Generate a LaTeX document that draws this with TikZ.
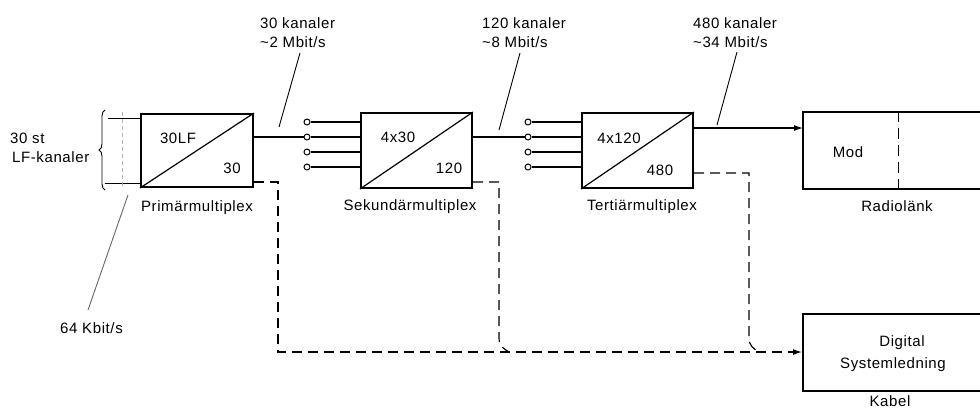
\documentclass[tikz,border=0pt]{standalone}
\usepackage{fontspec}
\setmainfont[LetterSpace=4]{Liberation Sans}
\usetikzlibrary{decorations.pathreplacing,arrows.meta}
\begin{document}
\begin{tikzpicture}[x=1pt,y=-1pt,
  box/.style={draw,line width=2pt,rectangle,inner sep=0pt},
  lbl/.style={font=\fontsize{15}{17}\selectfont,inner sep=0pt},
  ln/.style={line width=1.2pt},
  thinln/.style={line width=0.9pt},
  dsh/.style={line width=1.2pt,dash pattern=on 10pt off 6pt},
  term/.style={circle,draw,line width=1pt,inner sep=0pt,minimum size=6pt,fill=white},
  tip/.style={-{Latex[length=9pt,width=6pt]}}
]
\useasboundingbox (0,0) rectangle (980,408);
\clip (0,0) rectangle (980,408);

% multiplex boxes
\node[box,minimum width=112pt,minimum height=73pt] (p) at (197,150.5) {};
\node[box,minimum width=111pt,minimum height=75pt] (s) at (416.5,150.5) {};
\node[box,minimum width=111pt,minimum height=75pt] (t) at (637.5,150.5) {};
\draw[ln] (p.south west) -- (p.north east);
\draw[ln] (s.south west) -- (s.north east);
\draw[ln] (t.south west) -- (t.north east);

% box texts
\node[lbl] (p1) at (178,138) {30LF};
\node[lbl] (p2) at (232,168) {30};
\node[lbl] (p3) at (197,208) {Primärmultiplex};
\node[lbl] (s1) at (398,137) {4x30};
\node[lbl] (s2) at (449,168) {120};
\node[lbl] (s3) at (410,207) {Sekundärmultiplex};
\node[lbl] (t1) at (619,138) {4x120};
\node[lbl] (t2) at (660,170) {480};
\node[lbl] (t3) at (642,207) {Tertiärmultiplex};

% output boxes
\node[box,minimum width=190pt,minimum height=77pt] (r) at (898,150.5) {};
\node[box,minimum width=190pt,minimum height=77pt] (k) at (898,352) {};
\draw[thinln,dash pattern=on 11pt off 6pt] (r.north) -- (r.south);
\node[lbl] (r1) at (848,152) {Mod};
\node[lbl] (r2) at (897,206) {Radiolänk};
\node[lbl] (k1) at (902,343) {Digital};
\node[lbl] (k2) at (893,365) {Systemledning};
\node[lbl] (k3) at (890,401) {Kabel};

% input terminals
\foreach \i/\y in {1/122,2/137,3/152,4/167}{
  \node[term] (a\i) at (307,\y) {};
  \node[term] (b\i) at (528,\y) {};
  \draw[ln] (a\i) -- (a\i -| s.west);
  \draw[ln] (b\i) -- (b\i -| t.west);
}
\draw[ln] (p.east |- a2) -- (a2);
\draw[ln] (s.east |- b2) -- (b2);
\coordinate (rin) at (803,128);
\draw[ln,tip] (t.east |- rin) -- (rin);

% dashed routes to cable
\coordinate (pd) at (278,182);
\coordinate (sd) at (499,182);
\coordinate (td) at (749,173);
\draw[dsh,tip] (p.east |- pd) -- (pd) -- (pd |- k.west) -- (k.west);
\draw[dsh] (s.east |- sd) -- (sd) -- ++(0,156) .. controls +(0,8) and +(-5,-3) .. ++(10,14);
\draw[dsh] (t.east |- td) -- (td) -- ++(0,165) .. controls +(0,8) and +(-5,-3) .. ++(10,14);

% left input
\draw[thinln,decorate,decoration={brace,amplitude=6pt}] (105,190) -- (105,110);
\coordinate (bt) at (108,118);
\coordinate (bb) at (105,183);
\draw[thinln] (bt) -- (bt -| p.west);
\draw[thinln] (bb) -- (bb -| p.west);
\draw[gray!60,line width=1pt,dash pattern=on 4pt off 3pt] (122,112) -- (122,188);
\node[lbl,anchor=west] (lf1) at (10,138) {30 st};
\node[lbl,anchor=west] (lf2) at (12,157) {LF-kanaler};
\node[lbl,anchor=west] (kb) at (60,328) {64 Kbit/s};
\coordinate (kbs) at (128,195);
\coordinate (kbe) at (88,310);
\draw[thinln,gray!80!black] (kbs) -- (kbe);

% rate annotations
\node[lbl,anchor=west] (n1a) at (260,23) {30 kanaler};
\node[lbl,anchor=west] (n1b) at (260,42) {\textasciitilde2 Mbit/s};
\node[lbl,anchor=west] (n2a) at (482,23) {120 kanaler};
\node[lbl,anchor=west] (n2b) at (482,42) {\textasciitilde8 Mbit/s};
\node[lbl,anchor=west] (n3a) at (693,23) {480 kanaler};
\node[lbl,anchor=west] (n3b) at (693,42) {\textasciitilde34 Mbit/s};
\coordinate (l1s) at (300,53); \coordinate (l1e) at (279,127);
\coordinate (l2s) at (520,53); \coordinate (l2e) at (499,130);
\coordinate (l3s) at (737,52); \coordinate (l3e) at (717,125);
\draw[thinln] (l1s) -- (l1e);
\draw[thinln] (l2s) -- (l2e);
\draw[thinln] (l3s) -- (l3e);
\end{tikzpicture}
\end{document}
